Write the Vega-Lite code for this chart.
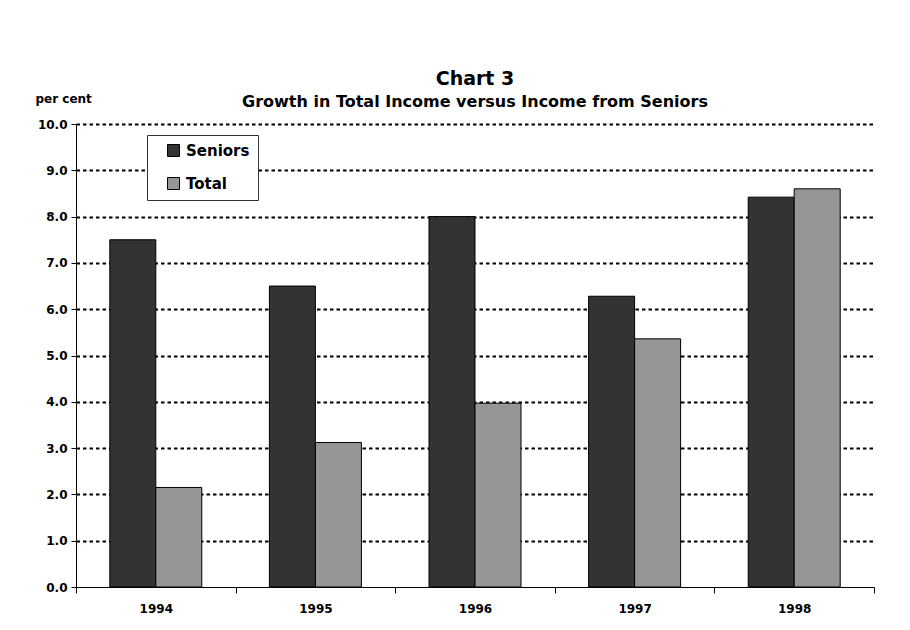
{
  "$schema": "https://vega.github.io/schema/vega-lite/v6.json",
  "width": 798,
  "height": 463,
  "autosize": {"type": "none"},
  "padding": {"left": 76, "top": 124, "right": 36, "bottom": 43},
  "background": "white",
  "title": {
    "text": "Chart 3",
    "subtitle": "Growth in Total Income versus Income from Seniors",
    "anchor": "middle",
    "frame": "group",
    "font": "DejaVu Sans",
    "fontSize": 19,
    "fontWeight": "bold",
    "color": "black",
    "subtitleFont": "DejaVu Sans",
    "subtitleFontSize": 16,
    "subtitleFontWeight": "bold",
    "subtitleColor": "black",
    "subtitlePadding": 5,
    "offset": -18
  },
  "data": {
    "values": [
      {"year": "1994", "series": "Seniors", "value": 7.5},
      {"year": "1994", "series": "Total", "value": 2.15},
      {"year": "1995", "series": "Seniors", "value": 6.5},
      {"year": "1995", "series": "Total", "value": 3.12},
      {"year": "1996", "series": "Seniors", "value": 8.0},
      {"year": "1996", "series": "Total", "value": 3.97},
      {"year": "1997", "series": "Seniors", "value": 6.28},
      {"year": "1997", "series": "Total", "value": 5.36},
      {"year": "1998", "series": "Seniors", "value": 8.42},
      {"year": "1998", "series": "Total", "value": 8.6}
    ]
  },
  "mark": {"type": "bar", "stroke": "black", "strokeWidth": 1},
  "encoding": {
    "x": {
      "field": "year",
      "type": "nominal",
      "scale": {"paddingInner": 0, "paddingOuter": 0},
      "axis": {
        "title": null,
        "labelAngle": 0,
        "tickBand": "extent",
        "tickSize": 6,
        "tickColor": "black",
        "domainColor": "black",
        "labelFont": "DejaVu Sans",
        "labelFontSize": 12,
        "labelFontWeight": "bold",
        "labelColor": "black",
        "labelPadding": 10,
        "grid": false
      }
    },
    "xOffset": {
      "field": "series",
      "type": "nominal",
      "sort": ["Seniors", "Total"],
      "scale": {"paddingInner": 0, "paddingOuter": 0.735}
    },
    "y": {
      "field": "value",
      "type": "quantitative",
      "scale": {"domain": [0, 10], "nice": false},
      "axis": {
        "title": "per cent",
        "titleAngle": 0,
        "titleX": -41,
        "titleY": -22,
        "titleAlign": "left",
        "titleBaseline": "alphabetic",
        "titleFont": "DejaVu Sans",
        "titleFontSize": 12,
        "titleFontWeight": "bold",
        "titleColor": "black",
        "values": [0, 1, 2, 3, 4, 5, 6, 7, 8, 9, 10],
        "format": ".1f",
        "labelFont": "DejaVu Sans",
        "labelFontSize": 12,
        "labelFontWeight": "bold",
        "labelColor": "black",
        "labelPadding": 4,
        "tickSize": 5,
        "tickColor": "black",
        "domainColor": "black",
        "grid": true,
        "gridColor": "black",
        "gridWidth": 2,
        "gridDash": [3.5, 3],
        "gridOpacity": {"condition": {"test": "datum.value === 0", "value": 0}, "value": 1}
      }
    },
    "color": {
      "field": "series",
      "type": "nominal",
      "scale": {"domain": ["Seniors", "Total"], "range": ["#333333", "#969696"]},
      "legend": {
        "title": null,
        "orient": "none",
        "legendX": 71,
        "legendY": 11,
        "fillColor": "white",
        "strokeColor": "#333333",
        "padding": 8,
        "rowPadding": 16,
        "symbolType": "square",
        "symbolSize": 144,
        "symbolStrokeColor": "black",
        "symbolStrokeWidth": 1,
        "symbolOffset": 11,
        "labelFont": "DejaVu Sans",
        "labelFontSize": 15,
        "labelFontWeight": "bold",
        "labelColor": "black",
        "labelOffset": 5
      }
    }
  },
  "config": {"view": {"stroke": null}}
}
